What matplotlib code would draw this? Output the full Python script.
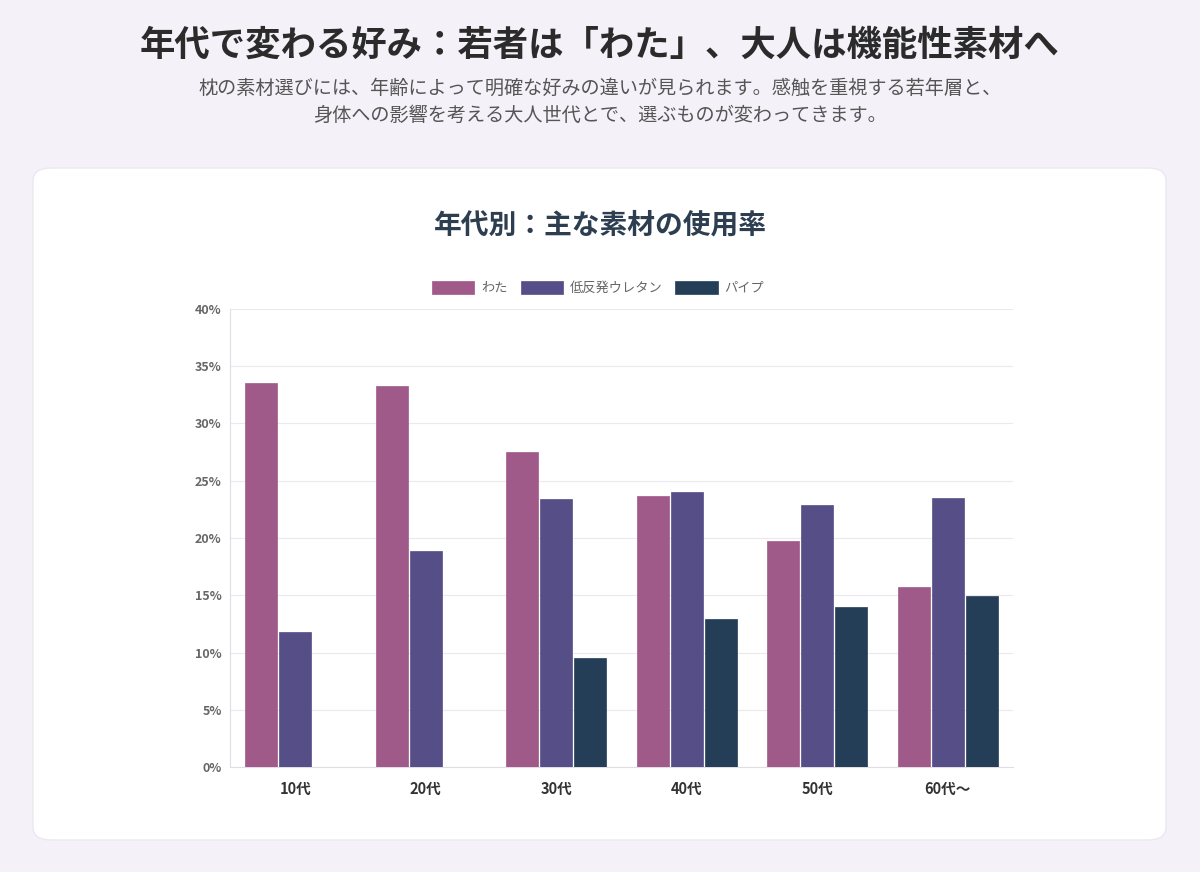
import numpy as np
import matplotlib.pyplot as plt
from matplotlib.patches import FancyBboxPatch

plt.rcParams['font.family'] = ['Noto Sans CJK JP', 'DejaVu Sans']

ages = ['10代', '20代', '30代', '40代', '50代', '60代〜']
series_names = ['わた', '低反発ウレタン', 'パイプ']
wata = [33.5, 33.3, 27.5, 23.7, 19.7, 15.7]
urethane = [11.8, 18.9, 23.4, 24.0, 22.9, 23.5]
pipe = [0, 0, 9.5, 12.9, 14.0, 14.9]
colors = ['#a05a8a', '#564e87', '#243e58']
yticks = [0, 5, 10, 15, 20, 25, 30, 35, 40]

fig = plt.figure(figsize=(12, 8.72), dpi=100)
fig.patch.set_facecolor('#f4f2f8')

# card
card = FancyBboxPatch((33 / 1200, 1 - 840 / 872), 1133 / 1200, 672 / 872,
                      boxstyle='round,pad=0,rounding_size=0.015',
                      transform=fig.transFigure, facecolor='white',
                      edgecolor='#ebe8f0', linewidth=1, zorder=-5)
fig.patches.append(card)

fig.text(0.5, 1 - 45 / 872, '年代で変わる好み：若者は「わた」、大人は機能性素材へ',
         ha='center', va='center', fontsize=25.5, fontweight='bold', color='#2b2b2b')
fig.text(0.5, 1 - 88 / 872, '枕の素材選びには、年齢によって明確な好みの違いが見られます。感触を重視する若年層と、',
         ha='center', va='center', fontsize=13.8, color='#555555')
fig.text(0.5, 1 - 115 / 872, '身体への影響を考える大人世代とで、選ぶものが変わってきます。',
         ha='center', va='center', fontsize=13.8, color='#555555')
fig.text(0.5, 1 - 226 / 872, '年代別：主な素材の使用率',
         ha='center', va='center', fontsize=20, fontweight='bold', color='#2c3e50')

ax = fig.add_axes([230 / 1200, 1 - 767 / 872, 783 / 1200, 458 / 872], zorder=2)
ax.set_facecolor('white')
x = np.arange(len(ages))
w = 0.245
for i, (vals, name) in enumerate(zip([wata, urethane, pipe], series_names)):
    ax.bar(x + (i - 1) * 0.262, vals, width=w, color=colors[i],
           edgecolor=colors[i], linewidth=0.5, label=name, zorder=3)

ax.set_xlim(-0.5, len(ages) - 0.5)
ax.set_ylim(0, 40)
ax.set_yticks(yticks)
ax.set_yticklabels([f'{t}%' for t in yticks], fontsize=9, color='#666666', fontweight='bold')
ax.set_xticks(x)
ax.set_xticklabels(ages, fontsize=10.5, fontweight='bold', color='#333333')
ax.tick_params(length=0, pad=10)
ax.tick_params(axis='y', pad=6)
ax.grid(axis='y', color='#ebe8f0', linewidth=0.8, zorder=0)
for s in ['top', 'right']:
    ax.spines[s].set_visible(False)
for s in ['left', 'bottom']:
    ax.spines[s].set_color('#e0dde6')

ax.legend(loc='lower center', bbox_to_anchor=(0.47, 1.005), ncol=3, frameon=False,
          fontsize=9.5, handlelength=3.2, handleheight=1.1, columnspacing=1.0,
          handletextpad=0.5, labelcolor='#666666')

plt.savefig('out.png', dpi=100, facecolor=fig.get_facecolor())
